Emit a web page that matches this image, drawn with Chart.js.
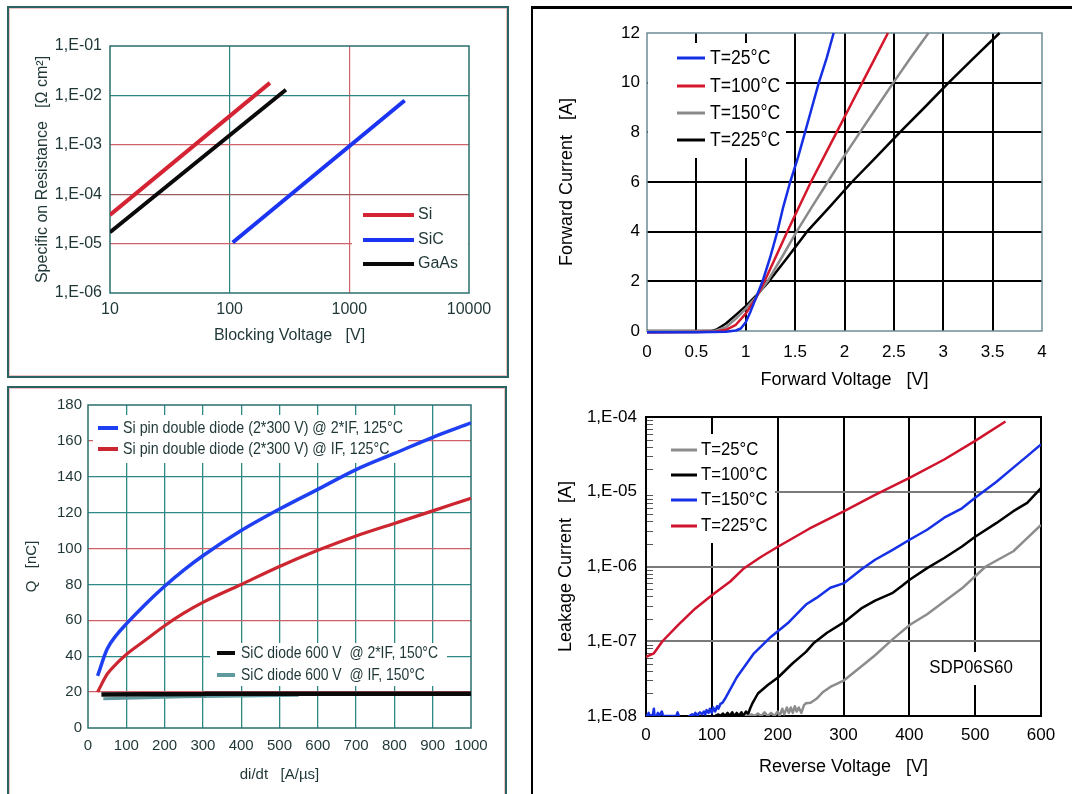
<!DOCTYPE html>
<html><head><meta charset="utf-8">
<script src="https://cdn.jsdelivr.net/npm/chart.js@4.4.0/dist/chart.umd.min.js"></script>
<style>
html,body{margin:0;padding:0;background:#fff;width:1072px;height:794px;overflow:hidden}
body{position:relative}
canvas{position:absolute}
.bx{position:absolute;box-sizing:border-box}
</style></head><body>
<div class="bx" style="left:7px;top:6px;width:502px;height:372px;border:2px solid #2a6462;box-shadow:inset 0 0 0 1px #f1c2c2"></div>
<div class="bx" style="left:7px;top:386px;width:500px;height:430px;border:2px solid #2a6462;box-shadow:inset 0 0 0 1px #f1c2c2"></div>
<div class="bx" style="left:531px;top:6px;width:2px;height:788px;background:#000"></div>
<div class="bx" style="left:531px;top:6px;width:541px;height:3px;background:#000"></div>
<canvas id="c1" width="520" height="380" style="left:0;top:0"></canvas>
<canvas id="c2" width="520" height="409" style="left:0;top:385px"></canvas>
<canvas id="c3" width="538" height="385" style="left:534px;top:9px"></canvas>
<canvas id="c4" width="538" height="400" style="left:534px;top:394px"></canvas>
<script>
// ---------- Chart 1: specific on-resistance vs blocking voltage ----------
const ronSiV = [10, 217];
const ronSiR = [3.8e-5, 1.79e-2];
const ronSiCV = [106, 2900];
const ronSiCR = [1.05e-5, 7.9e-3];
const ronGaAsV = [10, 295];
const ronGaAsR = [1.7e-5, 1.3e-2];
const ronXTicks = [10, 100, 1000, 10000];
const ronXLabels = ['10', '100', '1000', '10000'];
const ronYTicks = [1e-6, 1e-5, 1e-4, 1e-3, 1e-2, 1e-1];
const ronYLabels = ['1,E-06', '1,E-05', '1,E-04', '1,E-03', '1,E-02', '1,E-01'];

// ---------- Chart 2: reverse recovery charge vs di/dt ----------
const qSi2IFX = [25, 50, 75, 100, 150, 200, 250, 300, 400, 500, 600, 700, 800, 900, 1000];
const qSi2IFY = [29, 44, 52, 58, 69, 79, 88, 96, 110, 122, 133, 144, 153, 162, 170];
const qSiIFX = [25, 50, 75, 100, 150, 200, 250, 300, 400, 500, 600, 700, 800, 900, 1000];
const qSiIFY = [20, 30, 36, 41, 49, 57, 64, 70, 80, 90, 99, 107, 114, 121, 128];
const qSiC2IFX = [35, 150, 300, 310, 1000];
const qSiC2IFY = [18.7, 18.8, 18.9, 19.1, 19.1];
const qSiCIFX = [40, 150, 250, 550];
const qSiCIFY = [16.3, 16.8, 17.4, 18.2];
const qXTicks = ['0','100','200','300','400','500','600','700','800','900','1000'];
const qYTicks = ['0','20','40','60','80','100','120','140','160','180'];

// ---------- Chart 3: forward characteristic ----------
const fwdV25 = [0, 0.5, 0.8, 0.9, 0.95, 1.0, 1.05, 1.1, 1.17, 1.25, 1.32, 1.38, 1.45, 1.53, 1.6, 1.67, 1.74, 1.82, 1.89];
const fwdI25 = [-0.05, -0.05, -0.03, 0.02, 0.1, 0.35, 0.8, 1.3, 2, 3, 4, 5, 6, 7, 8, 9, 10, 11, 12];
const fwdV100 = [0, 0.5, 0.7, 0.8, 0.9, 1.0, 1.1, 1.19, 1.3, 1.42, 1.54, 1.66, 1.79, 1.92, 2.05, 2.18, 2.31, 2.44];
const fwdI100 = [-0.06, -0.04, -0.02, 0.05, 0.25, 0.7, 1.3, 2, 2.95, 4, 5, 6, 7, 8, 9, 10, 11, 12];
const fwdV150 = [0, 0.5, 0.7, 0.8, 0.9, 1.0, 1.1, 1.22, 1.37, 1.515, 1.67, 1.83, 1.99, 2.156, 2.325, 2.495, 2.67, 2.85];
const fwdI150 = [0, 0, 0.02, 0.15, 0.5, 0.9, 1.35, 2, 3, 4, 5, 6, 7, 8, 9, 10, 11, 12];
const fwdV225 = [0, 0.5, 0.65, 0.7, 0.8, 0.9, 1.0, 1.1, 1.235, 1.43, 1.62, 1.85, 2.075, 2.32, 2.56, 2.81, 3.055, 3.31, 3.57];
const fwdI225 = [0, 0, 0, 0.05, 0.3, 0.65, 1.0, 1.4, 2, 3, 4, 5, 6, 7, 8, 9, 10, 11, 12];
const fwdXTicks = ['0','0.5','1','1.5','2','2.5','3','3.5','4'];
const fwdYTicks = ['0','2','4','6','8','10','12'];

// ---------- Chart 4: leakage current ----------
const leakV25 = [150, 156, 160, 165, 170, 175, 180, 185, 190, 195, 200, 203, 207, 210, 214, 217, 220, 223, 226, 229, 232, 236, 240, 243, 250, 259, 269, 280, 301, 327, 348, 374, 401, 427, 453, 480, 500, 516, 558, 579, 600];
const leakI25 = [1.0e-8, 1.0e-8, 1.05e-8, 1.0e-8, 1.08e-8, 1.0e-8, 1.12e-8, 1.0e-8, 1.1e-8, 1.0e-8, 1.15e-8, 1.0e-8, 1.25e-8, 1.05e-8, 1.3e-8, 1.1e-8, 1.3e-8, 1.1e-8, 1.35e-8, 1.15e-8, 1.3e-8, 1.1e-8, 1.4e-8, 1.48e-8, 1.5e-8, 1.7e-8, 2.1e-8, 2.45e-8, 3.0e-8, 4.6e-8, 6.5e-8, 1.05e-7, 1.66e-7, 2.3e-7, 3.4e-7, 5.1e-7, 7.4e-7, 1.0e-6, 1.6e-6, 2.4e-6, 3.6e-6];
const leakV100 = [105, 110, 113, 117, 120, 124, 127, 131, 134, 138, 141, 145, 148, 152, 155, 158, 162, 170, 185, 201, 222, 243, 254, 275, 301, 327, 348, 374, 390, 401, 427, 453, 480, 500, 532, 558, 579, 600];
const leakI100 = [1.0e-8, 1.05e-8, 1.0e-8, 1.08e-8, 1.0e-8, 1.1e-8, 1.0e-8, 1.12e-8, 1.0e-8, 1.1e-8, 1.0e-8, 1.12e-8, 1.0e-8, 1.15e-8, 1.05e-8, 1.25e-8, 1.5e-8, 2.0e-8, 2.6e-8, 3.3e-8, 5.0e-8, 7.2e-8, 9.3e-8, 1.3e-7, 1.8e-7, 2.75e-7, 3.5e-7, 4.4e-7, 5.6e-7, 6.7e-7, 9.5e-7, 1.3e-6, 1.85e-6, 2.5e-6, 3.8e-6, 5.5e-6, 7.1e-6, 1.12e-5];
const leakV150 = [0, 2, 4, 6, 8, 10, 12, 13, 16, 18, 20, 24, 26, 30, 40, 46, 48, 50, 52, 58, 63, 66, 70, 72, 75, 78, 80, 82, 85, 88, 90, 92, 95, 97, 100, 102, 105, 108, 110, 113, 116, 120, 138, 164, 190, 217, 243, 259, 280, 301, 327, 348, 374, 401, 427, 453, 480, 500, 532, 558, 579, 600];
const leakI150 = [1.05e-8, 1.0e-8, 1.1e-8, 1.0e-8, 1.02e-8, 1.0e-8, 1.25e-8, 1.0e-8, 1.0e-8, 1.1e-8, 1.0e-8, 1.15e-8, 1.0e-8, 1.0e-8, 1.0e-8, 1.0e-8, 1.12e-8, 1.0e-8, 0.95e-8, 0.9e-8, 0.95e-8, 1.0e-8, 1.05e-8, 1.0e-8, 1.1e-8, 1.0e-8, 1.08e-8, 1.12e-8, 1.05e-8, 1.15e-8, 1.05e-8, 1.2e-8, 1.1e-8, 1.25e-8, 1.1e-8, 1.3e-8, 1.15e-8, 1.35e-8, 1.25e-8, 1.45e-8, 1.5e-8, 1.7e-8, 3.3e-8, 6.9e-8, 1.15e-7, 1.8e-7, 3.1e-7, 3.8e-7, 5.2e-7, 6.0e-7, 9.1e-7, 1.23e-6, 1.66e-6, 2.3e-6, 3.1e-6, 4.5e-6, 6.0e-6, 8.3e-6, 1.35e-5, 2.1e-5, 3.0e-5, 4.3e-5];
const leakV225 = [0, 12, 25, 49, 75, 101, 128, 149, 175, 201, 248, 301, 348, 401, 453, 500, 546];
const leakI225 = [6.2e-8, 6.9e-8, 1.0e-7, 1.66e-7, 2.75e-7, 4.2e-7, 6.3e-7, 9.5e-7, 1.35e-6, 1.85e-6, 3.2e-6, 5.5e-6, 9.1e-6, 1.55e-5, 2.7e-5, 4.8e-5, 8.7e-5];
const leakXTicks = ['0','100','200','300','400','500','600'];
const leakYTicks = [1e-8, 1e-7, 1e-6, 1e-5, 1e-4];
const leakYLabels = ['1,E-08', '1,E-07', '1,E-06', '1,E-05', '1,E-04'];

// ---------------------------------------------------------------
const FF = '"Liberation Sans", Arial, Helvetica, sans-serif';
Chart.defaults.font.family = FF;
const pts = (xs, ys) => xs.map((x, i) => ({x: x, y: ys[i]}));
const TXTL = '#1f3636';
const NONE = 'rgba(0,0,0,0)';
const edgeless = col => c => (c.index === 0 || c.index === c.scale.ticks.length - 1) ? NONE : col;

function deco(cfg) {
  return {
    id: 'deco',
    beforeDatasetsDraw(chart) {
      const c = chart.ctx, a = chart.chartArea;
      c.save();
      c.fillStyle = '#fff';
      (cfg.boxes || []).forEach(b => c.fillRect(b[0], b[1], b[2], b[3]));
      if (cfg.minor) {
        const s = chart.scales.y;
        c.strokeStyle = cfg.minor.color; c.lineWidth = 1;
        c.beginPath();
        cfg.minor.values.forEach(v => {
          const p = Math.round(s.getPixelForValue(v)) + 0.5;
          c.moveTo(a.left, p); c.lineTo(a.left + cfg.minor.len, p);
        });
        c.stroke();
      }
      if (cfg.frame) {
        c.strokeStyle = cfg.frame.color; c.lineWidth = cfg.frame.width;
        c.strokeRect(a.left, a.top, a.right - a.left, a.bottom - a.top);
      }
      (cfg.legends || []).forEach(L => {
        c.font = L.size + 'px ' + FF;
        c.textBaseline = 'middle'; c.textAlign = 'left';
        let sx = L.sx || 1;
        if (L.fitWidth) sx = L.fitWidth / c.measureText(chart.data.datasets[L.items[0].i].label).width;
        L.items.forEach(it => {
          const ds = chart.data.datasets[it.i];
          c.strokeStyle = ds.borderColor; c.lineWidth = L.lw; c.lineCap = 'butt';
          c.beginPath(); c.moveTo(L.x1, it.y); c.lineTo(L.x2, it.y); c.stroke();
          c.save(); c.translate(L.tx, it.y); c.scale(sx, 1);
          c.fillStyle = L.color; c.fillText(ds.label, 0, 0); c.restore();
        });
      });
      (cfg.texts || []).forEach(t => {
        c.font = t.size + 'px ' + FF; c.textBaseline = 'middle'; c.textAlign = 'center';
        c.save(); c.translate(t.x, t.y); c.scale(t.sx || 1, 1);
        c.fillStyle = t.color; c.fillText(t.text, 0, 0); c.restore();
      });
      c.restore();
    }
  };
}

function baseOpts(pad) {
  return {
    responsive: false, animation: false, devicePixelRatio: 1,
    layout: {padding: pad},
    plugins: {legend: {display: false}, tooltip: {enabled: false}},
    elements: {point: {radius: 0}, line: {tension: 0, borderJoinStyle: 'round'}}
  };
}

// ---------- Chart 1 ----------
(function () {
  const red = '#d0636a', teal = '#2c8582';
  const hcol = {1e-5: red, 1e-4: '#9a5a5e', 1e-3: red, 1e-2: teal};
  const vcol = {100: teal, 1000: red};
  const o = baseOpts({left: 33, top: 46, right: 51, bottom: 0});
  o.scales = {
    x: {type: 'logarithmic', min: 10, max: 10000,
      afterBuildTicks: s => { s.ticks = ronXTicks.map(v => ({value: v})); },
      afterFit: s => { s.height = 87; },
      border: {display: false},
      grid: {drawTicks: false, lineWidth: 1.2, color: c => vcol[c.tick.value] || NONE},
      ticks: {autoSkip: false, maxRotation: 0, padding: 7, color: TXTL, font: {size: 16},
        callback: (v, i) => ronXLabels[i]},
      title: {display: true, text: 'Blocking Voltage   [V]', color: TXTL, font: {size: 16}, padding: {top: 0, bottom: 35}}},
    y: {type: 'logarithmic', min: 1e-6, max: 1e-1,
      afterBuildTicks: s => { s.ticks = ronYTicks.map(v => ({value: v})); },
      afterFit: s => { s.width = 77; },
      border: {display: false},
      grid: {drawTicks: false, lineWidth: 1.2, color: c => hcol[c.tick.value] || NONE},
      ticks: {autoSkip: false, padding: 8, color: TXTL, font: {size: 16},
        callback: (v, i) => ronYLabels[i]},
      title: {display: true, text: 'Specific on Resistance   [Ω cm²]', color: TXTL, font: {size: 16}, padding: {top: 0, bottom: 0}}}
  };
  new Chart(document.getElementById('c1'), {
    type: 'line',
    data: {datasets: [
      {label: 'Si', data: pts(ronSiV, ronSiR), borderColor: '#d42434', borderWidth: 4},
      {label: 'SiC', data: pts(ronSiCV, ronSiCR), borderColor: '#1b34f2', borderWidth: 4},
      {label: 'GaAs', data: pts(ronGaAsV, ronGaAsR), borderColor: '#0a0a0a', borderWidth: 4}
    ]},
    options: o,
    plugins: [deco({
      boxes: [[352, 200, 116, 82]],
      frame: {color: '#2a6f6d', width: 1.5},
      legends: [{size: 16, x1: 363, x2: 414, tx: 418, lw: 4, color: TXTL,
        items: [{i: 0, y: 215}, {i: 1, y: 240}, {i: 2, y: 264}]}]
    })]
  });
})();

// ---------- Chart 2 ----------
(function () {
  const red = '#cf5f66', teal = '#2c8985';
  const hcol = {20: red, 40: teal, 60: red, 80: teal, 100: red, 120: teal, 140: teal, 160: red};
  const o = baseOpts({left: 23, top: 20, right: 49, bottom: 0});
  o.scales = {
    x: {type: 'linear', min: 0, max: 1000,
      afterBuildTicks: s => { s.ticks = qXTicks.map(v => ({value: +v})); },
      afterFit: s => { s.height = 66; },
      border: {display: false},
      grid: {drawTicks: false, lineWidth: 1.3, color: edgeless(teal)},
      ticks: {autoSkip: false, maxRotation: 0, padding: 9, color: TXTL, font: {size: 15},
        callback: (v, i) => qXTicks[i]},
      title: {display: true, text: 'di/dt   [A/µs]', color: TXTL, font: {size: 15}, padding: {top: 0, bottom: 10}}},
    y: {type: 'linear', min: 0, max: 180,
      afterBuildTicks: s => { s.ticks = qYTicks.map(v => ({value: +v})); },
      afterFit: s => { s.width = 65; },
      border: {display: false},
      grid: {drawTicks: false, lineWidth: 1.3, color: c => hcol[c.tick.value] || NONE},
      ticks: {autoSkip: false, padding: 6, color: TXTL, font: {size: 15},
        callback: (v, i) => qYTicks[i]},
      title: {display: true, text: 'Q   [nC]', color: TXTL, font: {size: 15}, padding: {top: 0, bottom: 0}}}
  };
  new Chart(document.getElementById('c2'), {
    type: 'line',
    data: {datasets: [
      {label: 'Si pin double diode (2*300 V) @ 2*IF, 125°C', data: pts(qSi2IFX, qSi2IFY), borderColor: '#1f3ff2', borderWidth: 3.5, cubicInterpolationMode: 'monotone'},
      {label: 'Si pin double diode (2*300 V) @ IF, 125°C', data: pts(qSiIFX, qSiIFY), borderColor: '#cc2630', borderWidth: 3.2, cubicInterpolationMode: 'monotone'},
      {label: 'SiC diode 600 V  @ 2*IF, 150°C', data: pts(qSiC2IFX, qSiC2IFY), borderColor: '#0a0a0a', borderWidth: 4.5},
      {label: 'SiC diode 600 V  @ IF, 150°C', data: pts(qSiCIFX, qSiCIFY), borderColor: '#5e9a9e', borderWidth: 3}
    ]},
    options: o,
    plugins: [deco({
      boxes: [[93, 30, 315, 48], [210, 258, 237, 43]],
      frame: {color: '#2a6f6d', width: 1.5},
      legends: [
        {size: 17, fitWidth: 280, x1: 98, x2: 118, tx: 123, lw: 4, color: TXTL,
          items: [{i: 0, y: 43}, {i: 1, y: 64}]},
        {size: 17, fitWidth: 197, x1: 217, x2: 235, tx: 241, lw: 4, color: TXTL,
          items: [{i: 2, y: 268}, {i: 3, y: 290}]}
      ]
    })]
  });
})();

// ---------- Chart 3 ----------
(function () {
  const o = baseOpts({left: 22, top: 24, right: 30, bottom: 0});
  o.scales = {
    x: {type: 'linear', min: 0, max: 4,
      afterBuildTicks: s => { s.ticks = fwdXTicks.map(v => ({value: +v})); },
      afterFit: s => { s.height = 63; },
      border: {display: false},
      grid: {drawTicks: false, lineWidth: 2, color: edgeless('#000')},
      ticks: {autoSkip: false, maxRotation: 0, padding: 11, color: '#000', font: {size: 17},
        callback: (v, i) => fwdXTicks[i]},
      title: {display: true, text: 'Forward Voltage   [V]', color: '#000', font: {size: 18}, padding: {top: 0, bottom: 3}}},
    y: {type: 'linear', min: 0, max: 12,
      afterBuildTicks: s => { s.ticks = fwdYTicks.map(v => ({value: +v})); },
      afterFit: s => { s.width = 91; },
      border: {display: false},
      grid: {drawTicks: false, lineWidth: 2, color: edgeless('#000')},
      ticks: {autoSkip: false, padding: 7, color: '#000', font: {size: 17},
        callback: (v, i) => fwdYTicks[i]},
      title: {display: true, text: 'Forward Current   [A]', color: '#000', font: {size: 18}, padding: {top: 0, bottom: 0}}}
  };
  new Chart(document.getElementById('c3'), {
    type: 'line',
    data: {datasets: [
      {label: 'T=25°C', data: pts(fwdV25, fwdI25), borderColor: '#1530e4', borderWidth: 2.5, clip: 3},
      {label: 'T=100°C', data: pts(fwdV100, fwdI100), borderColor: '#d4172b', borderWidth: 2.5, clip: 3},
      {label: 'T=150°C', data: pts(fwdV150, fwdI150), borderColor: '#8a8a8a', borderWidth: 2.5, clip: 3},
      {label: 'T=225°C', data: pts(fwdV225, fwdI225), borderColor: '#000000', borderWidth: 2.5, clip: 3}
    ]},
    options: o,
    plugins: [deco({
      boxes: [[114, 34, 138, 115]],
      frame: {color: '#6f8c97', width: 1.5},
      legends: [{size: 20, sx: 0.88, x1: 143, x2: 171, tx: 176, lw: 3, color: '#000',
        items: [{i: 0, y: 49}, {i: 1, y: 77}, {i: 2, y: 104}, {i: 3, y: 131}]}]
    })]
  });
})();

// ---------- Chart 4 ----------
(function () {
  const minorVals = [];
  [1e-8, 1e-7, 1e-6, 1e-5].forEach(d => { for (let k = 2; k <= 9; k++) minorVals.push(k * d); });
  const o = baseOpts({left: 21, top: 23, right: 31, bottom: 0});
  o.scales = {
    x: {type: 'linear', min: 0, max: 600,
      afterBuildTicks: s => { s.ticks = leakXTicks.map(v => ({value: +v})); },
      afterFit: s => { s.height = 78; },
      border: {display: false},
      grid: {drawTicks: false, lineWidth: 2, color: edgeless('#000')},
      ticks: {autoSkip: false, maxRotation: 0, padding: 9, color: '#000', font: {size: 17},
        callback: (v, i) => leakXTicks[i]},
      title: {display: true, text: 'Reverse Voltage   [V]', color: '#000', font: {size: 18}, padding: {top: 0, bottom: 16}}},
    y: {type: 'logarithmic', min: 1e-8, max: 1e-4,
      afterBuildTicks: s => { s.ticks = leakYTicks.map(v => ({value: v})); },
      afterFit: s => { s.width = 91; },
      border: {display: false},
      grid: {drawTicks: false, lineWidth: 2, color: edgeless('#7a7a7a')},
      ticks: {autoSkip: false, padding: 9, color: '#000', font: {size: 17},
        callback: (v, i) => leakYLabels[i]},
      title: {display: true, text: 'Leakage Current   [A]', color: '#000', font: {size: 18}, padding: {top: 0, bottom: 0}}}
  };
  new Chart(document.getElementById('c4'), {
    type: 'line',
    data: {datasets: [
      {label: 'T=25°C', data: pts(leakV25, leakI25), borderColor: '#8c8c8c', borderWidth: 2.5},
      {label: 'T=100°C', data: pts(leakV100, leakI100), borderColor: '#000000', borderWidth: 2.5},
      {label: 'T=150°C', data: pts(leakV150, leakI150), borderColor: '#1530e6', borderWidth: 2.5},
      {label: 'T=225°C', data: pts(leakV225, leakI225), borderColor: '#d0132d', borderWidth: 2.5}
    ]},
    options: o,
    plugins: [deco({
      boxes: [[113, 40, 128, 109], [393, 258, 88, 33]],
      minor: {values: minorVals, len: 7, color: '#555'},
      frame: {color: '#000', width: 2},
      legends: [{size: 19, sx: 0.88, x1: 137, x2: 163, tx: 167, lw: 3, color: '#000',
        items: [{i: 0, y: 56}, {i: 1, y: 81}, {i: 2, y: 106}, {i: 3, y: 132}]}],
      texts: [{text: 'SDP06S60', x: 437, y: 274, size: 19, sx: 0.89, color: '#000'}]
    })]
  });
})();
</script>
</body></html>
